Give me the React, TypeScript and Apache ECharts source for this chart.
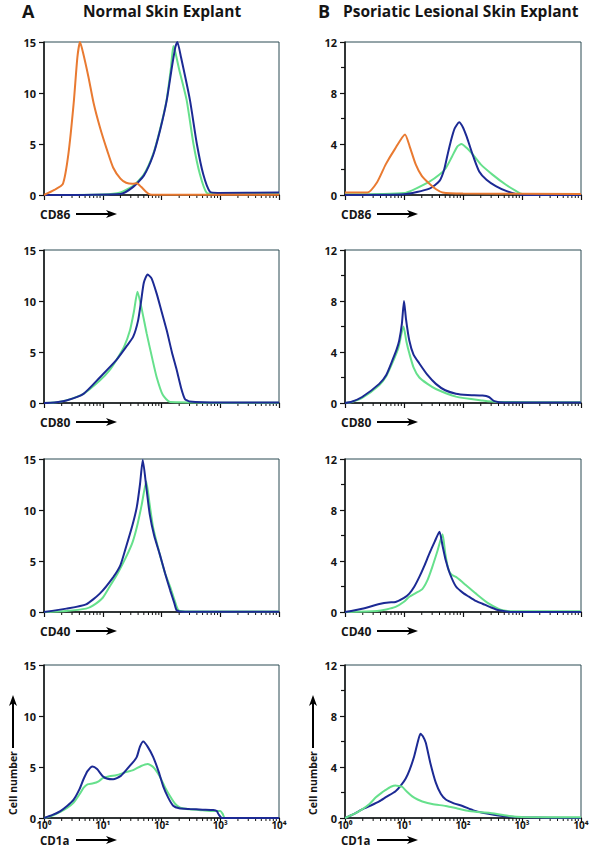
import React, { useEffect, useRef } from "react";
import * as echarts from "echarts";

// ---------- data (x = fluorescence, log scale; y = cell number) ----------
const rowLabels = ["CD86", "CD80", "CD40", "CD1a"];
const yTicksNormal = [0, 5, 10, 15];
const yTicksPsoriatic = [0, 4, 8, 12];
const xTickLabels = ["10⁰", "10¹", "10²", "10³", "10⁴"];
const xMinorTicks = [2, 3, 4, 5, 6, 7, 8, 9, 20, 30, 40, 50, 60, 70, 80, 90, 200, 300, 400, 500, 600, 700, 800, 900, 2000, 3000, 4000, 5000, 6000, 7000, 8000, 9000];

// Normal skin explant
const nCD86Orange = [[1, 0], [1.5, 0.5], [2.1, 1.1], [2.6, 4], [3.2, 9], [3.7, 13.5], [4.1, 15], [4.6, 14], [5.7, 11.6], [7, 9], [9, 6.6], [12, 4.3], [15, 2.7], [20, 1.6], [25, 1.2], [32, 1.1], [38, 1.15], [45, 0.8], [55, 0.3], [64, 0.05], [100, 0.02], [10000, 0.02]];
const nCD86Green = [[1, 0], [10, 0.05], [20, 0.25], [33, 0.9], [50, 2.0], [72, 4], [95, 6.5], [122, 9.3], [145, 12.5], [159, 14.6], [172, 14.0], [200, 12.3], [268, 9.3], [350, 5], [452, 2.0], [588, 0.2], [800, 0.1], [10000, 0.1]];
const nCD86Blue = [[1, 0], [20, 0.1], [33, 0.8], [50, 1.9], [72, 3.9], [95, 6.4], [122, 9.2], [150, 12.5], [172, 14.5], [186, 15], [215, 13.5], [305, 9.3], [400, 5], [515, 2.0], [670, 0.3], [900, 0.2], [10000, 0.25]];

const nCD80Green = [[1, 0], [1.5, 0.05], [2.4, 0.26], [4.7, 0.9], [8.9, 2.2], [13, 3.2], [17, 4.2], [23, 5.5], [29, 7.1], [34, 9], [39, 10.9], [45, 9.5], [56, 6.8], [70, 4.3], [83, 2.5], [105, 0.8], [140, 0.1], [10000, 0.02]];
const nCD80Blue = [[1, 0], [1.5, 0.05], [2.4, 0.25], [4.7, 0.9], [8.9, 2.5], [17, 4.2], [25, 5.5], [33, 6.5], [40, 8.1], [45, 10], [50, 11.8], [58, 12.6], [68, 12.2], [83, 10.7], [100, 9], [123, 7.1], [150, 5], [182, 3.2], [215, 1.5], [250, 0.4], [300, 0.15], [1000, 0.05], [10000, 0.05]];

const nCD40Blue = [[1, 0], [2.4, 0.33], [5.2, 0.75], [8.9, 1.8], [15, 3.4], [20, 4.6], [25, 6.4], [32, 8.5], [38, 10.3], [43, 12.5], [48, 14.9], [55, 12.3], [63, 9.6], [75, 7.5], [93, 5.7], [115, 3.8], [141, 2.1], [165, 0.9], [182, 0.16], [250, 0.02], [10000, 0.02]];
const nCD40Green = [[1, 0], [2.4, 0.1], [5.2, 0.33], [6.9, 0.65], [10, 1.4], [13, 2.45], [18, 3.8], [25, 5.4], [32, 6.8], [38, 8.3], [46, 10.5], [55, 12.8], [63, 10.5], [72, 8.3], [93, 5.7], [115, 3.8], [141, 2.45], [170, 1.0], [195, 0.16], [300, 0.05], [10000, 0.05]];

const nCD1aBlue = [[1, 0], [1.4, 0.3], [1.9, 0.68], [2.5, 1.2], [3.2, 1.8], [4, 2.8], [4.7, 3.8], [5.5, 4.6], [6.7, 5.06], [8, 4.8], [10, 4.1], [12, 3.85], [15, 3.8], [20, 4.1], [25, 4.7], [32, 5.4], [38, 6.0], [43, 7.0], [49, 7.5], [58, 7.0], [72, 6.0], [90, 4.5], [107, 3.1], [130, 2.0], [158, 1.2], [200, 0.95], [300, 0.88], [500, 0.82], [760, 0.78], [870, 0.68], [950, 0.3], [1070, 0], [10000, 0]];
const nCD1aGreen = [[1, 0], [1.4, 0.25], [1.9, 0.6], [2.5, 1.0], [3.2, 1.5], [4, 2.3], [4.7, 2.95], [5.5, 3.3], [6.9, 3.4], [8.5, 3.6], [10, 3.9], [13, 4.1], [17, 4.2], [25, 4.5], [33, 4.7], [45, 5.1], [58, 5.3], [72, 5.0], [93, 4.1], [115, 3.0], [141, 2.1], [170, 1.4], [209, 1.0], [300, 0.85], [500, 0.75], [760, 0.68], [1000, 0.68], [1100, 0.4], [1200, 0], [10000, 0]];

// Psoriatic lesional skin explant
const pCD86Orange = [[1, 0.2], [2.4, 0.2], [3.5, 1.0], [4.9, 2.4], [7, 3.6], [10.4, 4.75], [12.5, 3.8], [15.8, 2.4], [20, 1.5], [26.7, 0.9], [35, 0.45], [45, 0.2], [100, 0.12], [10000, 0.08]];
const pCD86Blue = [[1, 0], [10, 0.05], [27, 0.5], [40, 1.1], [48, 2.0], [55, 3.2], [62, 4.2], [72, 5.2], [86, 5.7], [100, 5.3], [115, 4.6], [127, 4.0], [150, 3.0], [188, 1.85], [250, 1.2], [360, 0.7], [550, 0.3], [790, 0.08], [1200, 0], [10000, 0]];
const pCD86Green = [[1, 0.05], [10, 0.15], [27, 1.05], [40, 1.6], [51, 2.1], [65, 3.0], [80, 3.8], [94, 4.0], [115, 3.7], [145, 3.2], [200, 2.4], [316, 1.6], [535, 0.8], [800, 0.3], [1000, 0.08], [10000, 0.05]];

const pCD80Blue = [[1, 0], [1.3, 0.1], [1.95, 0.47], [3.8, 1.5], [5, 2.2], [6.3, 3.3], [7.5, 4.2], [8.3, 4.9], [9.2, 6.2], [10, 8.0], [10.8, 6.6], [12.3, 4.9], [14.5, 3.8], [18.2, 3.1], [25, 2.2], [34.7, 1.5], [50, 1.0], [76, 0.73], [120, 0.63], [214, 0.58], [275, 0.47], [339, 0.15], [500, 0.03], [10000, 0.03]];
const pCD80Green = [[1, 0], [1.3, 0.08], [1.95, 0.4], [3.8, 1.4], [5, 2.1], [6.3, 3.1], [8, 4.3], [9.8, 6.0], [11, 4.8], [12.3, 3.9], [14.5, 2.8], [18.2, 2.0], [25, 1.5], [34.7, 1.1], [76, 0.5], [214, 0.2], [400, 0.08], [10000, 0.05]];

const pCD40Blue = [[1, 0], [1.95, 0.26], [4.0, 0.65], [5.5, 0.75], [7.2, 0.78], [10, 1.1], [12.3, 1.44], [15, 2.0], [18.2, 2.75], [22, 3.6], [27, 4.6], [33, 5.5], [40, 6.3], [45, 5.2], [51, 4.05], [60, 3.0], [76, 2.0], [100, 1.5], [126, 1.2], [160, 0.9], [214, 0.65], [300, 0.35], [407, 0.13], [700, 0], [10000, 0]];
const pCD40Green = [[1, 0], [3.5, 0.08], [5, 0.2], [7.2, 0.4], [10, 0.8], [12.3, 1.2], [16, 1.5], [20.4, 1.8], [25, 2.5], [30, 3.5], [37, 4.8], [45, 6.1], [50, 4.6], [57, 3.3], [65, 2.9], [76, 2.75], [100, 2.3], [166, 1.44], [275, 0.65], [468, 0.13], [1000, 0.05], [10000, 0.05]];

const pCD1aBlue = [[1, 0], [1.4, 0.3], [1.95, 0.68], [2.8, 1.0], [3.8, 1.3], [5, 1.65], [7.2, 2.1], [9, 2.6], [10.7, 3.1], [12.5, 3.8], [14.8, 4.8], [17, 5.9], [19, 6.6], [21, 6.4], [23.4, 5.9], [28, 4.3], [34.7, 2.75], [42, 1.9], [51, 1.45], [70, 1.15], [98, 0.94], [150, 0.6], [214, 0.42], [468, 0.16], [1000, 0.05], [10000, 0]];
const pCD1aGreen = [[1, 0], [1.4, 0.3], [1.95, 0.68], [2.6, 1.1], [3.3, 1.6], [4.1, 1.95], [4.9, 2.2], [6, 2.45], [7.2, 2.55], [8.3, 2.5], [9.3, 2.45], [11, 2.1], [13.8, 1.7], [17, 1.45], [20.4, 1.3], [30, 1.1], [51, 0.94], [80, 0.75], [126, 0.55], [200, 0.45], [275, 0.42], [400, 0.3], [600, 0.16], [1000, 0.08], [10000, 0.05]];

const ORANGE = "#e97a31";
const BLUE = "#1c2a94";
const GREEN = "#66e08c";

const panels = [
  { col: 0, row: 0, series: [[nCD86Green, GREEN], [nCD86Blue, BLUE], [nCD86Orange, ORANGE]] },
  { col: 1, row: 0, series: [[pCD86Green, GREEN], [pCD86Blue, BLUE], [pCD86Orange, ORANGE]] },
  { col: 0, row: 1, series: [[nCD80Green, GREEN], [nCD80Blue, BLUE]] },
  { col: 1, row: 1, series: [[pCD80Green, GREEN], [pCD80Blue, BLUE]] },
  { col: 0, row: 2, series: [[nCD40Green, GREEN], [nCD40Blue, BLUE]] },
  { col: 1, row: 2, series: [[pCD40Green, GREEN], [pCD40Blue, BLUE]] },
  { col: 0, row: 3, series: [[nCD1aGreen, GREEN], [nCD1aBlue, BLUE]] },
  { col: 1, row: 3, series: [[pCD1aBlue, BLUE], [pCD1aGreen, GREEN]] },
] as any[];

// ---------- layout ----------
const COL_LEFT = [44, 345];
const COL_WIDTH = [235, 236];
const ROW_TOP = [42, 250, 459, 665];
const PLOT_H = 153;
const FONT = "'Open Sans', 'DejaVu Sans', sans-serif";
const TXT = "#151515";

export default function App() {
  const ref = useRef<HTMLDivElement>(null);
  useEffect(() => {
    document.body.style.margin = "0";
    const chart = echarts.init(ref.current!, null, { renderer: "svg" });
    const grids: any[] = [];
    const xAxes: any[] = [];
    const yAxes: any[] = [];
    const series: any[] = [];
    const graphics: any[] = [];

    panels.forEach((p, i) => {
      const bottomRow = p.row === 3;
      const yTicks = p.col === 0 ? yTicksNormal : yTicksPsoriatic;
      const yMax = yTicks[yTicks.length - 1];
      const yInt = yTicks[1] - yTicks[0];
      grids.push({
        left: COL_LEFT[p.col], top: ROW_TOP[p.row], width: COL_WIDTH[p.col], height: PLOT_H,
        show: true, borderColor: "#2b4a52", borderWidth: 1, backgroundColor: "#fff",
      });
      xAxes.push({
        type: "log", logBase: 10, min: 1, max: 10000, gridIndex: i,
        axisLine: { show: true, lineStyle: { color: "#111", width: 1.5 } },
        axisTick: { show: true, length: 5, lineStyle: { color: "#111", width: 1.2 } },
        splitLine: { show: false },
        axisLabel: {
          show: bottomRow, margin: 2, fontFamily: FONT, fontSize: 10, lineHeight: 10,
          fontWeight: "bold", color: TXT,
          formatter: (v: number) => xTickLabels[Math.round(Math.log10(v))],
        },
      });
      yAxes.push({
        type: "value", min: 0, max: yMax, interval: yInt, gridIndex: i,
        axisLine: { show: true, lineStyle: { color: "#111", width: 1.5 } },
        axisTick: { show: true, length: 5, lineStyle: { color: "#111", width: 1.2 } },
        minorTick: { show: p.col === 1, splitNumber: 2, length: 4, lineStyle: { color: "#111", width: 1.2 } },
        splitLine: { show: false },
        axisLabel: { margin: 8, fontSize: 11, lineHeight: 11, fontWeight: "bold", color: TXT, fontFamily: FONT },
      });
      p.series.forEach(([data, color]: any) => {
        series.push({
          type: "line", xAxisIndex: i, yAxisIndex: i, data, showSymbol: false, symbol: "none",
          smooth: 0.2, clip: true,
          lineStyle: { color, width: 2 },
        });
      });
      series.push({
        type: "custom", xAxisIndex: i, yAxisIndex: i, silent: true, clip: false,
        data: xMinorTicks.map((v) => [v, 0]),
        renderItem: (_params: any, api: any) => {
          const pt = api.coord([api.value(0), 0]);
          return {
            type: "line",
            shape: { x1: pt[0], y1: pt[1], x2: pt[0], y2: pt[1] + 3 },
            style: { stroke: "#111", lineWidth: 1 },
          };
        },
      });

      // bottom labels "CDxx ----->"
      const plotBottom = ROW_TOP[p.row] + PLOT_H;
      const ly = plotBottom + (bottomRow ? 22 : 19);
      const lx = p.col === 0 ? 40 : 341;
      graphics.push({
        type: "text", x: lx, y: ly,
        style: { text: rowLabels[p.row], fontSize: bottomRow ? 11.5 : 12, lineHeight: 12, fontWeight: "bold", fill: TXT, fontFamily: FONT, verticalAlign: "middle" },
      });
      const ax0 = lx + 36;
      const ax1 = lx + 77;
      graphics.push({ type: "line", shape: { x1: ax0, y1: ly, x2: ax1 - 6, y2: ly }, style: { stroke: "#000", lineWidth: 2 } });
      graphics.push({
        type: "polygon",
        shape: { points: [[ax1, ly], [ax1 - 11, ly - 4], [ax1 - 8, ly], [ax1 - 11, ly + 4]] },
        style: { fill: "#000" },
      });
      if (bottomRow) {
        const cx = p.col === 0 ? 13 : 313;
        graphics.push({
          type: "text", x: cx, y: 783, rotation: Math.PI / 2,
          style: { text: "Cell number", fontSize: 10.5, fontWeight: "bold", fill: TXT, fontFamily: FONT, align: "center", verticalAlign: "middle" },
        });
        graphics.push({ type: "line", shape: { x1: cx, y1: 748, x2: cx, y2: 702 }, style: { stroke: "#000", lineWidth: 2 } });
        graphics.push({
          type: "polygon",
          shape: { points: [[cx, 695], [cx - 4, 706], [cx, 703], [cx + 4, 706]] },
          style: { fill: "#000" },
        });
      }
    });

    graphics.push({ type: "text", left: 22, top: 2, style: { text: "A", fontSize: 18, fontWeight: "bold", fill: TXT, fontFamily: FONT } });
    graphics.push({ type: "text", left: 83, top: 3, style: { text: "Normal Skin Explant", fontSize: 15.5, fontWeight: "bold", fill: TXT, fontFamily: FONT } });
    graphics.push({ type: "text", left: 318, top: 2, style: { text: "B", fontSize: 18, fontWeight: "bold", fill: TXT, fontFamily: FONT } });
    graphics.push({ type: "text", left: 343, top: 3, style: { text: "Psoriatic Lesional Skin Explant", fontSize: 15.5, fontWeight: "bold", fill: TXT, fontFamily: FONT } });

    chart.setOption({
      animation: false,
      backgroundColor: "#fff",
      grid: grids,
      xAxis: xAxes,
      yAxis: yAxes,
      series,
      graphic: graphics,
    });
    return () => chart.dispose();
  }, []);
  return <div ref={ref} style={{ width: 592, height: 852 }} />;
}
